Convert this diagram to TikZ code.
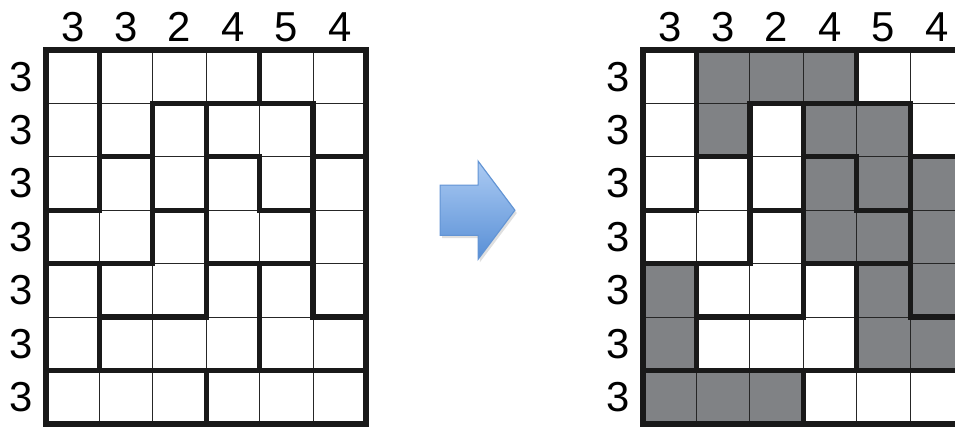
\documentclass[tikz,border=0pt]{standalone}
\usepackage{fontspec}
\setmainfont{Liberation Sans}
\usepackage{tikz}
\usetikzlibrary{shadows}

\definecolor{cellgray}{RGB}{128,130,133}
\definecolor{arrowtop}{RGB}{172,203,243}
\definecolor{arrowbot}{RGB}{88,143,214}
\definecolor{arrowedge}{RGB}{98,148,212}

\begin{document}
\begin{tikzpicture}[
  x=1cm, y=-1cm,
  font=\fontsize{22.3}{24}\selectfont,
  thinline/.style={line width=0.55pt, black!85},
  thickline/.style={line width=2.8pt, black!90, line cap=rect},
  frame/.style={line width=3.2pt, black!90},
  shadedcell/.style={fill=cellgray},
  clue/.style={inner sep=0pt, anchor=center},
  blockarrow/.style={draw=arrowedge, line width=0.6pt, top color=arrowtop, bottom color=arrowbot,
    drop shadow={shadow xshift=1pt, shadow yshift=-1.5pt, opacity=0.25}},
]
\clip (-0.861,-0.936) rectangle (17.02,7.079);

% shaded cells of the solution
\begin{scope}[xshift=11.18cm]
  \foreach \c/\r in {1/0,2/0,3/0,1/1,3/1,4/1,3/2,4/2,5/2,3/3,4/3,5/3,
                     0/4,4/4,5/4,0/5,4/5,5/5,0/6,1/6,2/6}
    \fill[shadedcell] (\c,\r) rectangle (\c+1,\r+1);
\end{scope}

% puzzle (left) and solution (right)
\foreach \ox/\g in {0/p,11.18/s} {
  \begin{scope}[xshift=\ox cm]
    \draw[thinline] (0,0) grid (6,7);
    % region borders
    \foreach \i/\r in {1/0,4/0,1/1,2/1,3/1,5/1,1/2,2/2,3/2,4/2,5/2,
                       2/3,3/3,5/3,1/4,3/4,4/4,5/4,1/5,4/5,3/6}
      \draw[thickline] (\i,\r) -- (\i,\r+1);
    \foreach \j/\c in {1/2,1/3,1/4,2/1,2/3,2/5,3/0,3/2,3/4,4/0,4/1,4/3,4/4,
                       5/1,5/2,5/5,6/0,6/1,6/2,6/3,6/4,6/5}
      \draw[thickline] (\c,\j) -- (\c+1,\j);
    \draw[frame] (0,0) rectangle (6,7);
    % clues
    \foreach \n [count=\c from 0] in {3,3,2,4,5,4}
      \node[clue] (\g top\c) at (\c+0.5,-0.43) {\n};
    \foreach \r in {0,...,6}
      \node[clue] (\g left\r) at (-0.47,\r+0.5) {3};
  \end{scope}
}

% arrow
\draw[blockarrow] (7.38,2.53) -- (8.09,2.53) -- (8.09,2.08) -- (8.78,3.0)
  -- (8.09,3.92) -- (8.09,3.47) -- (7.38,3.47) -- cycle;

\end{tikzpicture}
\end{document}
